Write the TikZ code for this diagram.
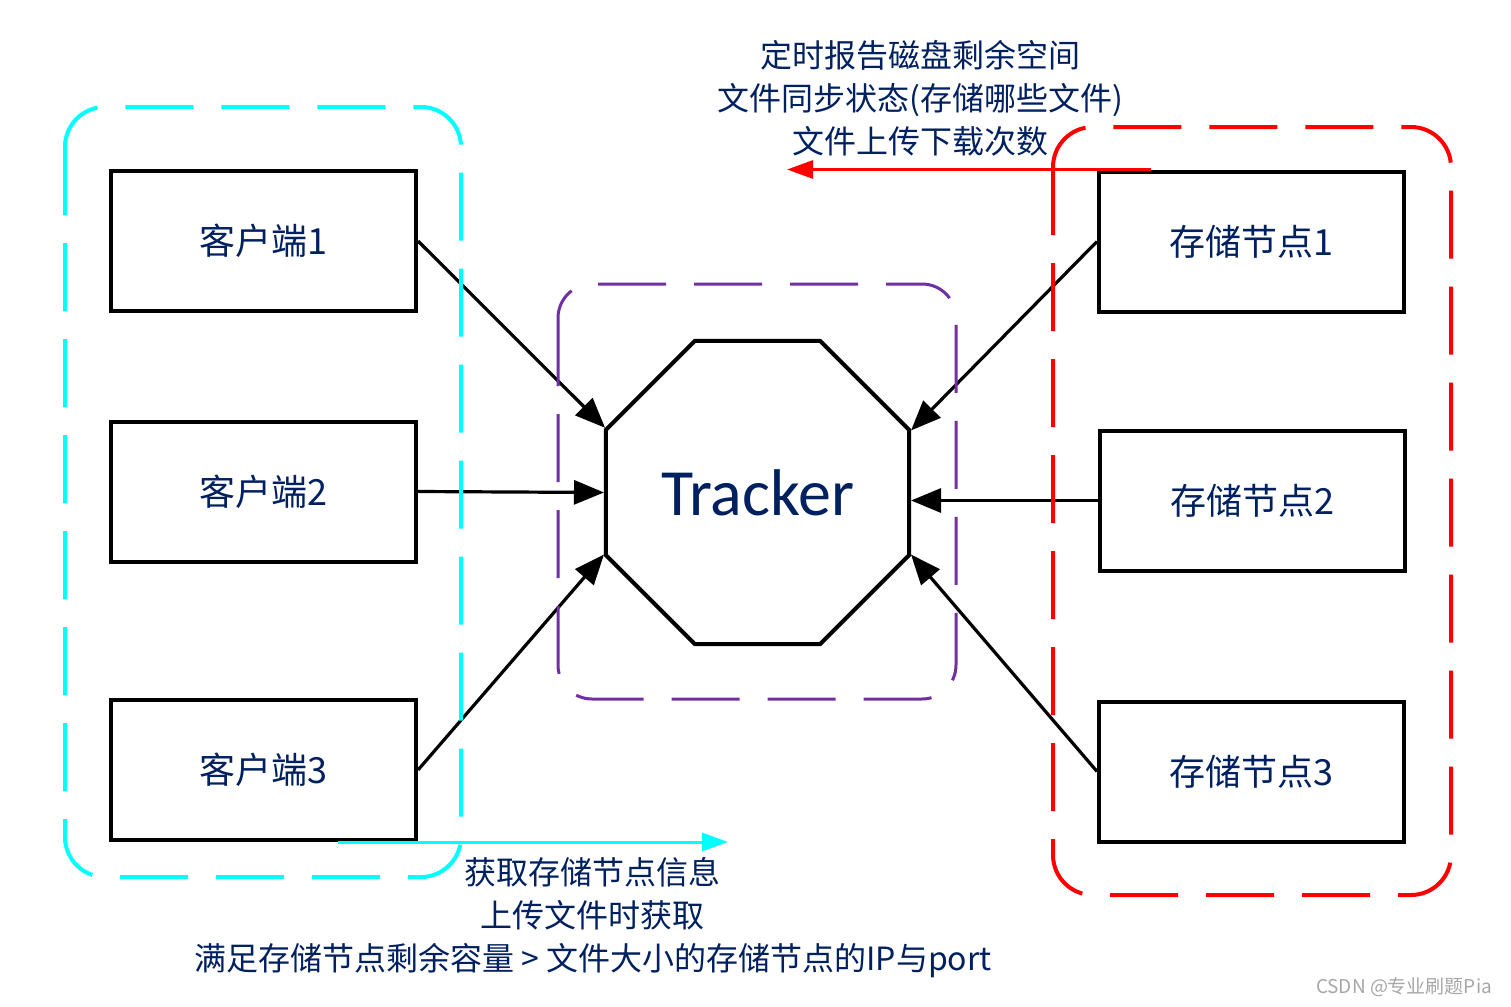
\documentclass[tikz,border=0pt]{standalone}
\usepackage{fontspec}
\setmainfont{Carlito}
\newfontfamily\cjkfont{Noto Sans CJK SC}
\usetikzlibrary{arrows.meta,shapes.geometric}
\definecolor{navy}{RGB}{0,32,96}
\definecolor{groupcyan}{RGB}{0,255,255}
\definecolor{groupred}{RGB}{255,0,0}
\definecolor{grouppurple}{RGB}{112,48,160}

\begin{document}
\begin{tikzpicture}[x=0.5pt,y=-0.5pt,>={Triangle[length=15pt,width=12pt]},
    host node/.style={rectangle,draw,line width=2pt,minimum width=152.5pt,minimum height=70pt,inner sep=0pt,text=navy,font=\cjkfont\fontsize{18}{22}\selectfont},
    tracker node/.style={regular polygon,regular polygon sides=8,draw,line width=2pt,minimum size=164pt,inner sep=0pt,text=navy,font=\fontsize{33}{38}\selectfont},
    link/.style={->,line width=1.6pt},
    info link/.style={-{Triangle[length=13pt,width=9pt]},line width=1.5pt},
    group box/.style={rounded corners=20pt,line width=2pt,dash pattern=on 34pt off 14pt},
    note/.style={align=center,text=navy,font=\cjkfont\fontsize{16}{21.5}\selectfont}]

\useasboundingbox (0,0) rectangle (1511,1007);

% clients
\node[host node] (c1) at (263.5,241)   {客户端1};
\node[host node] (c2) at (263.5,491.5) {客户端2};
\node[host node] (c3) at (263.5,770)   {客户端3};

% storage nodes
\node[host node] (s1) at (1251.5,241.5) {存储节点1};
\node[host node] (s2) at (1252.5,500.5) {存储节点2};
\node[host node] (s3) at (1251.5,771.5) {存储节点3};

\node[tracker node] (tracker) at (757.5,492.5) {Tracker};

\path[link]
(c1.east) edge (tracker.157.5)
(c2.east) edge (tracker.west)
(c3.east) edge (tracker.202.5)
(s1.west) edge (tracker.22.5)
(s2.west) edge (s2.west -| tracker.east)
(s3.west) edge (tracker.-22.5);

% reports and queries
\coordinate (report start) at ([xshift=27pt]s1.north west);
\coordinate (report end) at (787,171);
\coordinate (query start) at ([xshift=114.5pt]c3.south west);
\coordinate (query end) at (728,840);
\draw[info link,groupred]  (report start) -- (report start -| report end);
\draw[info link,groupcyan] (query start) -- (query start -| query end);

\node[note] (report text) at (920,98) {定时报告磁盘剩余空间\\文件同步状态(存储哪些文件)\\文件上传下载次数};
\node[note] (query text) at (593,918) {获取存储节点信息\\上传文件时获取\\满足存储节点剩余容量 > 文件大小的存储节点的IP与port};

% groups
\draw[group box,groupcyan] (65,107) rectangle (461,877);
\draw[group box,groupred] (1053,127) rectangle (1451,895);
\draw[group box,grouppurple,line width=1.5pt,rounded corners=17pt] (558,284) rectangle (956,699);

\node[anchor=east,text=gray!70,font=\cjkfont\fontsize{9.5}{12}\selectfont] (mark) at (1499,987) {CSDN @专业刷题Pia};
\end{tikzpicture}
\end{document}
